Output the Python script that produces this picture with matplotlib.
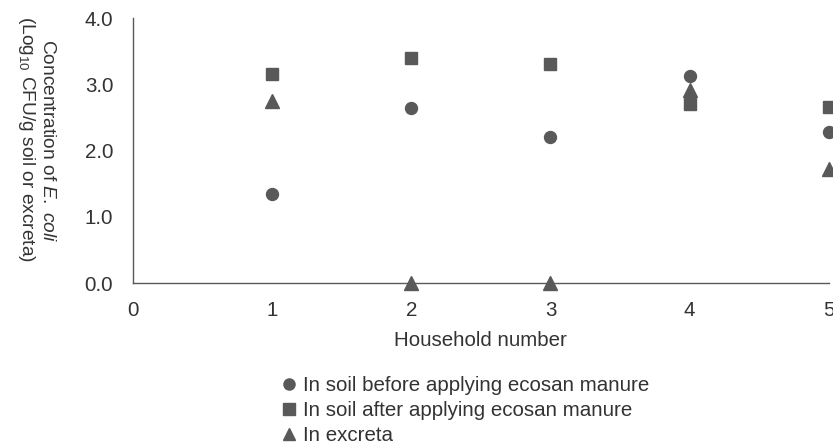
import matplotlib.pyplot as plt
from matplotlib.lines import Line2D

plt.rcParams['font.family'] = ['Liberation Sans', 'DejaVu Sans']
plt.rcParams['mathtext.fontset'] = 'custom'
plt.rcParams['mathtext.rm'] = 'Liberation Sans'
plt.rcParams['mathtext.it'] = 'Liberation Sans:italic'

households = [1, 2, 3, 4, 5]
soil_before = [1.35, 2.64, 2.20, 3.13, 2.28]
soil_after = [3.15, 3.40, 3.31, 2.70, 2.65]
excreta = [2.75, 0.0, 0.0, 2.92, 1.72]

labels = ["In soil before applying ecosan manure",
          "In soil after applying ecosan manure",
          "In excreta"]
xticks = [0, 1, 2, 3, 4, 5]
yticks = [0.0, 1.0, 2.0, 3.0, 4.0]

mark_col = "#595959"
text_col = "#333333"
fs = 14.8

fig = plt.figure(figsize=(8.33, 4.48), dpi=100)
ax = fig.add_axes([0.1593, 0.3683, 0.8359, 0.5915])

ax.plot(households, soil_before, "o", color=mark_col, ms=8.6, clip_on=False, zorder=3)
ax.plot(households, soil_after, "s", color=mark_col, ms=8.3, clip_on=False, zorder=3)
ax.plot(households, excreta, "^", color=mark_col, ms=9.5, clip_on=False, zorder=3)

ax.set_xlim(0, 5)
ax.set_ylim(0, 4)
ax.set_xticks(xticks)
ax.set_yticks(yticks)
ax.set_yticklabels([f"{v:.1f}" for v in yticks])
ax.tick_params(length=0, labelsize=fs, labelcolor=text_col)
ax.tick_params(axis="y", pad=14)
ax.tick_params(axis="x", pad=13)
for s in ["top", "right"]:
    ax.spines[s].set_visible(False)
for s in ["left", "bottom"]:
    ax.spines[s].set_color("#595959")
    ax.spines[s].set_linewidth(1.0)

ax.set_xlabel("Household number", fontsize=fs, color=text_col, labelpad=8)

fig.text(0.0565, 1 - 141 / 448, r"Concentration of $\it{E.}$ $\it{coli}$",
         rotation=-90, ha="center", va="center", fontsize=13.8, color=text_col)
fig.text(0.032, 1 - 139 / 448, r"(Log$_{10}$ CFU/g soil or excreta)",
         rotation=-90, ha="center", va="center", fontsize=13.8, color=text_col)

handles = [Line2D([], [], ls="", marker=m, color=mark_col, ms=ms)
           for m, ms in [("o", 8), ("s", 8), ("^", 9)]]
fig.legend(handles, labels, loc="upper left", bbox_to_anchor=(0.34, 0.16),
           frameon=False, fontsize=fs, handlelength=0.6, handletextpad=0.35,
           labelspacing=0.28, borderpad=0, borderaxespad=0, labelcolor=text_col)

fig.savefig("out.png", dpi=100)
